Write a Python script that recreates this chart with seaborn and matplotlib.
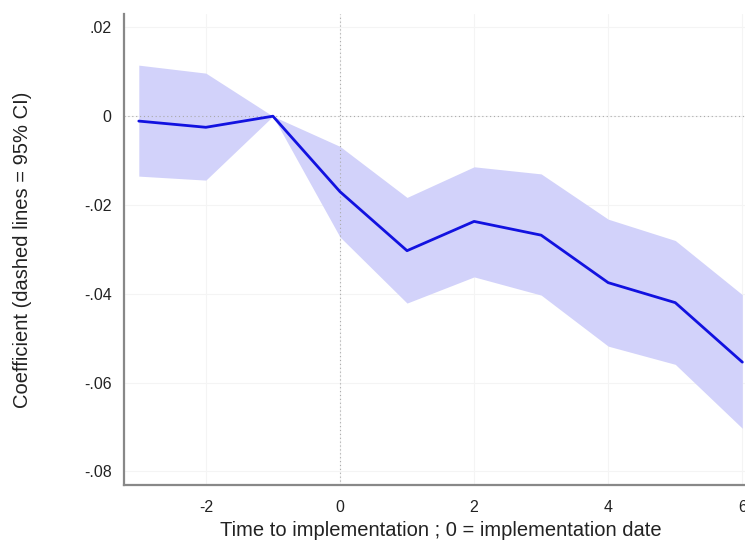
import numpy as np
import pandas as pd
import matplotlib
matplotlib.use("Agg")
import matplotlib.pyplot as plt
import seaborn as sns
from matplotlib.ticker import FuncFormatter

# event-study coefficients
periods = [-3, -2, -1, 0, 1, 2, 3, 4, 5, 6]
coef = [-0.0011, -0.0025, 0.0, -0.0170, -0.0303, -0.0237, -0.0268, -0.0375, -0.0420, -0.0554]
ci_upper = [0.0115, 0.0097, 0.0, -0.0068, -0.0183, -0.0114, -0.0130, -0.0232, -0.0280, -0.0402]
ci_lower = [-0.0135, -0.0144, 0.0, -0.0272, -0.0421, -0.0362, -0.0403, -0.0518, -0.0559, -0.0703]
y_ticks = [0.02, 0.0, -0.02, -0.04, -0.06, -0.08]
x_ticks = [-2, 0, 2, 4, 6]

df = pd.DataFrame({"t": periods, "coef": coef, "lo": ci_lower, "hi": ci_upper})

sns.set_style("white")
plt.rcParams["font.family"] = ["Liberation Sans", "DejaVu Sans"]
plt.rcParams["axes.unicode_minus"] = False

fig = plt.figure(figsize=(7.45, 5.42), dpi=100)
ax = fig.add_axes([0.1665, 0.105, 0.8335, 0.869])

ax.fill_between(df["t"], df["lo"], df["hi"], color="#d2d2fa", linewidth=0, zorder=1)
sns.lineplot(data=df, x="t", y="coef", color="#1212e0", linewidth=2.0, ax=ax, zorder=3)

# reference lines at the implementation date and at zero
ax.axvline(0, color="#aaaaaa", linestyle=(0, (1, 2.5)), linewidth=0.8, zorder=2)
ax.axhline(0, color="#aaaaaa", linestyle=(0, (1, 2.5)), linewidth=0.8, zorder=2)

ax.set_xlim(-3.22, 6.04)
ax.set_ylim(-0.0831, 0.023)
ax.set_xticks(x_ticks)
ax.set_yticks(y_ticks)


def fmt(v, pos):
    if abs(v) < 1e-9:
        return "0"
    s = f"{v:.2f}"
    return s.replace("0.", ".")


ax.yaxis.set_major_formatter(FuncFormatter(fmt))
ax.grid(True, color="#f4f4f4", linewidth=0.8, zorder=0)
ax.tick_params(axis="both", length=0, labelsize=11.5, colors="#222222")
ax.tick_params(axis="y", pad=9)
ax.tick_params(axis="x", pad=11)

sns.despine(ax=ax)
for side in ["left", "bottom"]:
    ax.spines[side].set_color("#888888")
    ax.spines[side].set_linewidth(1.6)

ax.set_xlabel("Time to implementation ; 0 = implementation date", fontsize=14.5, color="#222222")
ax.set_ylabel("Coefficient (dashed lines = 95% CI)", fontsize=14.5, color="#222222")
ax.xaxis.set_label_coords(0.51, -0.077)
ax.yaxis.set_label_coords(-0.148, 0.5)

fig.savefig("out.png", dpi=100)
